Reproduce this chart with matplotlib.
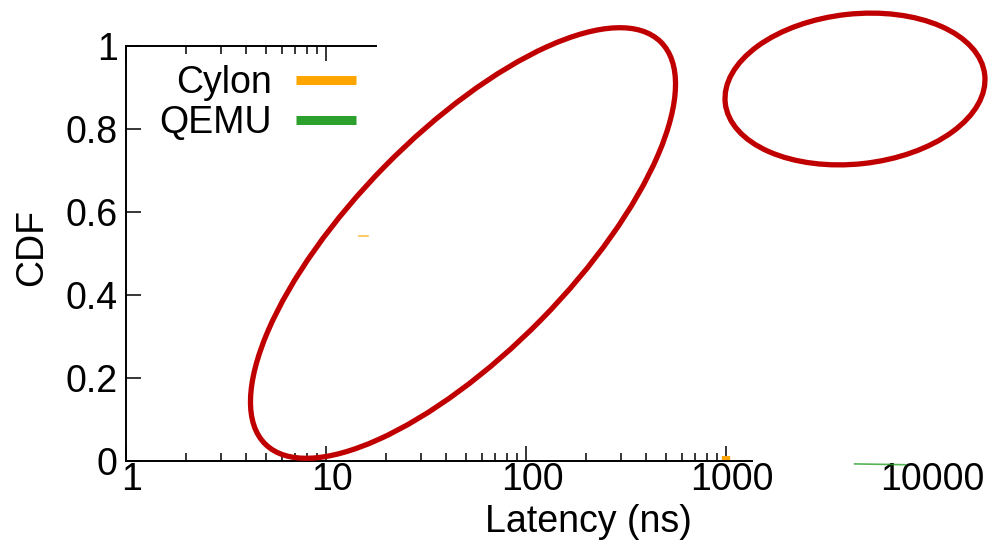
import matplotlib
matplotlib.use('Agg')
import matplotlib.pyplot as plt
from matplotlib.patches import Ellipse
from matplotlib.lines import Line2D
from matplotlib.transforms import ScaledTranslation

plt.rcParams['font.family'] = ['Liberation Sans', 'DejaVu Sans']

# ---- data (visible remnants of the CDF curves) ----
series_names = ['Cylon', 'QEMU']
series_colors = ['#ffa500', '#2ca02c']
cylon_x = [1000, 1000]
cylon_cdf = [0.0, 0.011]
cylon_trace_x = [14.6, 16.2]
cylon_trace_cdf = [0.541, 0.541]
qemu_x = [4400, 7900]
qemu_cdf = [-0.007, -0.009]

x_major = [1, 10, 100, 1000, 10000]
x_major_labels = ['1', '10', '100', '1000', '10000']
x_minor = [m * d for d in (1, 10, 100) for m in range(2, 10)]
y_major = [0, 0.2, 0.4, 0.6, 0.8, 1]
y_major_labels = ['0', '0.2', '0.4', '0.6', '0.8', '1']

FS = 27

fig = plt.figure(figsize=(9.92, 5.41), dpi=100)
ax = fig.add_axes([126 / 992, 80 / 541, 800 / 992, 415 / 541])
ax.set_xscale('log')
ax.set_xlim(1, 10000)
ax.set_ylim(0, 1)

# curves
ax.plot(cylon_x, cylon_cdf, color=series_colors[0], lw=6, solid_capstyle='butt', clip_on=False)
ax.plot(cylon_trace_x, cylon_trace_cdf, color=series_colors[0], lw=1.2, alpha=0.7)
ax.plot(qemu_x, qemu_cdf, color=series_colors[1], lw=1.2, alpha=0.8, clip_on=False)

# spines
for s in ax.spines.values():
    s.set_linewidth(1.4)
ax.spines['right'].set_visible(False)
ax.spines['top'].set_bounds(1, 10 ** 1.25)
ax.spines['bottom'].set_bounds(1, 10 ** 3.13)

# ticks
ax.set_xticks(x_major)
ax.set_xticklabels(x_major_labels)
ax.set_xticks(x_minor, minor=True)
ax.xaxis.set_minor_formatter(plt.NullFormatter())
ax.set_yticks(y_major)
ax.set_yticklabels(y_major_labels)
ax.tick_params(axis='both', which='major', direction='in', length=11, width=1.1, labelsize=FS)
ax.tick_params(axis='x', which='minor', direction='in', length=5.5, width=1.1)
ax.tick_params(axis='x', which='both', top=True)
ax.tick_params(axis='x', which='major', pad=1)
ax.tick_params(axis='y', which='major', pad=6, right=False)

maj = ax.xaxis.get_major_ticks()
for v, t in zip(x_major, maj):
    if v > 10:
        t.tick2line.set_visible(False)
    if v > 1000:
        t.tick1line.set_visible(False)
mino = ax.xaxis.get_minor_ticks()
for v, t in zip(x_minor, mino):
    if v > 10:
        t.tick2line.set_visible(False)

off = ScaledTranslation(6 / 100, 0, fig.dpi_scale_trans)
for lab in ax.get_xticklabels():
    lab.set_transform(lab.get_transform() + off)

# labels
ax.set_xlabel('Latency (ns)', fontsize=FS)
ax.set_ylabel('CDF', fontsize=FS)
ax.xaxis.set_label_coords(0.5775, -0.104)
ax.yaxis.set_label_coords(-0.095, 0.515)

# legend
handles = [Line2D([], [], color=c, lw=6.5, solid_capstyle='butt') for c in series_colors]
ax.legend(handles, series_names, loc='upper right', bbox_to_anchor=(356 / 992, 0.879),
          bbox_transform=fig.transFigure, frameon=False, markerfirst=False,
          handlelength=1.6, handletextpad=0.65, labelspacing=0.1, borderpad=0,
          borderaxespad=0, fontsize=FS)

# red annotation ellipses
fig.add_artist(Ellipse((4.63, 2.98), 5.64, 2.19, angle=45.5, fill=False, ec='#c00000', lw=3.8,
                       transform=fig.dpi_scale_trans))
fig.add_artist(Ellipse((8.55, 4.52), 2.61, 1.50, angle=6.2, fill=False, ec='#c00000', lw=3.8,
                       transform=fig.dpi_scale_trans))

fig.savefig('out.png', dpi=100)
